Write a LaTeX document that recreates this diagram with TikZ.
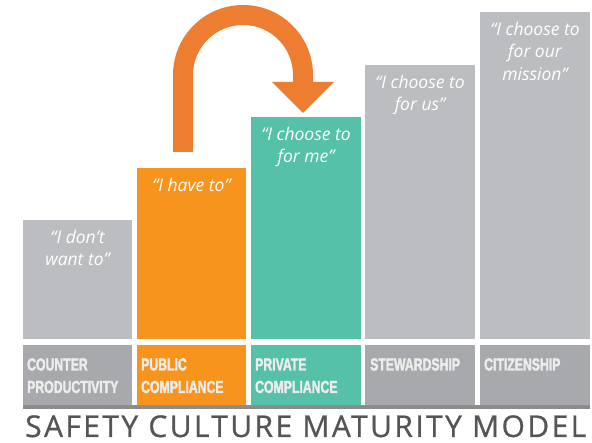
\documentclass[tikz,border=0pt]{standalone}
\usepackage{fontspec}
\setmainfont{Open Sans}
\newfontfamily\quotefont{Open Sans}
\newfontfamily\condfont{Liberation Sans}[FakeStretch=0.7,BoldFeatures={FakeBold=2}]
\newfontfamily\titlefont{Open Sans}[LetterSpace=8.0,FakeBold=0.8]
\definecolor{bargray}{HTML}{BCBDC0}
\definecolor{labgray}{HTML}{A7A9AC}
\definecolor{barorange}{HTML}{F7941E}
\definecolor{barteal}{HTML}{55C1A9}
\definecolor{arroworange}{HTML}{ED7D31}
\definecolor{linegray}{HTML}{8C8C8C}
\definecolor{titlegray}{HTML}{555555}
\definecolor{labtext}{HTML}{EDEDED}
\tikzset{
  bar/.style={anchor=south west, inner sep=0pt, outer sep=0pt, draw=none},
  labbox/.style={anchor=north west, inner sep=0pt, outer sep=0pt, draw=none, minimum height=61pt},
  quote/.style={anchor=north, inner sep=0pt, align=center, text=white,
    font=\quotefont\itshape\fontsize{17.5}{22.5}\selectfont, yshift=-10pt},
  labtxt/.style={anchor=base west, inner sep=0pt, text=labtext,
    font=\condfont\bfseries\fontsize{17.5}{22.5}\selectfont, align=left},
}
\begin{document}
\begin{tikzpicture}[x=1pt,y=1pt]
\useasboundingbox (0,0) rectangle (592,443);
% bars
\node[bar, fill=bargray, minimum width=109pt, minimum height=119pt] (b1) at (23,104) {};
\node[bar, fill=barorange, minimum width=109pt, minimum height=171pt] (b2) at (137,104) {};
\node[bar, fill=barteal, minimum width=110pt, minimum height=222pt] (b3) at (251,104) {};
\node[bar, fill=bargray, minimum width=110pt, minimum height=274pt] (b4) at (365,104) {};
\node[bar, fill=bargray, minimum width=110pt, minimum height=327pt] (b5) at (480,104) {};
% label boxes
\node[labbox, fill=labgray, minimum width=109pt] (l1) at (23,98) {};
\node[labbox, fill=barorange, minimum width=109pt] (l2) at (137,98) {};
\node[labbox, fill=barteal, minimum width=110pt] (l3) at (251,98) {};
\node[labbox, fill=labgray, minimum width=110pt] (l4) at (365,98) {};
\node[labbox, fill=labgray, minimum width=110pt] (l5) at (480,98) {};
\fill[linegray] (23,34) rectangle (590,37.5);
% quotes
\node[quote] (q1) at (b1.north) {“I don’t\\want to”};
\node[quote] (q2) at (b2.north) {“I have to”};
\node[quote] (q3) at (b3.north) {“I choose to\\for me”};
\node[quote] (q4) at (b4.north) {“I choose to\\for us”};
\node[quote] (q5) at (b5.north) {“I choose to\\for our\\mission”};
% labels
\node[labtxt] (t1) at (27,72.5) {COUNTER};
\node[labtxt] (t1b) at (27,50) {PRODUCTIVITY};
\node[labtxt] (t2) at (141,72.5) {PUBLIC};
\node[labtxt] (t2b) at (141,50) {COMPLIANCE};
\node[labtxt] (t3) at (255,72.5) {PRIVATE};
\node[labtxt] (t3b) at (255,50) {COMPLIANCE};
\node[labtxt] (t4) at (370,72.5) {STEWARDSHIP};
\node[labtxt] (t5) at (484,72.5) {CITIZENSHIP};
% arrow
\fill[arroworange] (173,291) -- (173,368) arc[start angle=180,end angle=0,radius=70]
  -- (313,361) -- (334,361) -- (303,330) -- (272,361) -- (293,361) -- (293,368)
  arc[start angle=0,end angle=180,radius=50] -- (193,291) -- cycle;
% title
\node[anchor=base west, inner sep=0pt, text=titlegray, font=\titlefont\fontsize{30}{32}\selectfont] (title) at (25,6) {SAFETY CULTURE MATURITY MODEL};
\end{tikzpicture}
\end{document}
